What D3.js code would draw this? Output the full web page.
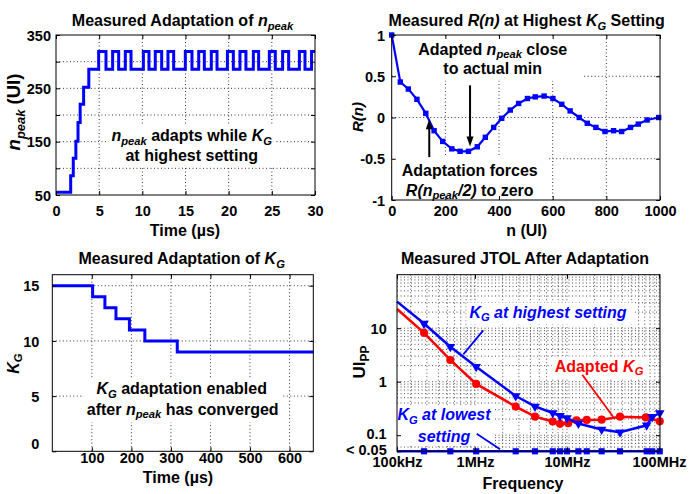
<!DOCTYPE html>
<html>
<head>
<meta charset="utf-8">
<script src="https://cdn.jsdelivr.net/npm/d3@7"></script>
<style>
  body { margin: 0; background: #fff; }
  text { font-family: "Liberation Sans", Arial, sans-serif; font-weight: bold; fill: #000; }
</style>
</head>
<body>
<svg id="fig" width="689" height="494"></svg>
<script>
// ---------- data ----------

// top left: n_peak vs time (us), step held from each time to the next
const npeakTime = [0, 1.7, 2.0, 2.3, 2.55, 2.8, 3.2, 3.8,
    4.94, 5.79, 6.56, 7.26, 8.03, 8.69, 10.12, 10.77, 11.5, 12.24, 12.97, 13.63,
    14.98, 15.75, 16.53, 17.18, 17.99, 18.65, 19.85, 20.54, 21.31, 22.0,
    22.86, 23.47, 24.71, 25.4, 26.25, 26.95, 28.19, 28.84, 29.6, 30]
const npeakValue = [55, 86, 119, 151, 186, 220, 252, 286,
    319, 286, 319, 286, 319, 286, 319, 286, 319, 286, 319, 286,
    319, 286, 319, 286, 319, 286, 319, 286, 319, 286,
    319, 286, 319, 286, 319, 286, 319, 286, 319, 319]
const npeakXTicks = [0, 5, 10, 15, 20, 25, 30]
const npeakYTicks = [50, 100, 150, 200, 250, 300, 350]
const npeakYLabels = [50, 150, 250, 350]

// top right: R(n)
const rnUI = [0, 32, 62, 94, 127, 158, 190, 224, 255, 286, 319, 349, 380, 410, 442, 473,
    506, 535, 568, 601, 634, 665, 699, 729, 761, 795, 827, 857, 890, 919, 952, 995]
const rnValue = [1, 0.43, 0.345, 0.22, 0.05, -0.16, -0.29, -0.38, -0.41, -0.41, -0.355, -0.24, -0.12, -0.01, 0.09, 0.17,
    0.23, 0.25, 0.26, 0.23, 0.16, 0.08, 0.0, -0.07, -0.12, -0.17, -0.16, -0.17, -0.12, -0.08, -0.03, 0.0]
const rnXTicks = [0, 200, 400, 600, 800, 1000]
const rnYTicks = [-1, -0.5, 0, 0.5, 1]

// bottom left: K_G vs time (us)
const kgTime = [0, 102, 133, 161, 195, 234, 316, 660]
const kgValue = [15, 14, 13, 12, 11, 10, 9, 9]
const kgXTicks = [100, 200, 300, 400, 500, 600]
const kgYTicks = [0, 5, 10, 15]

// bottom right: JTOL (UIpp) vs jitter frequency (Hz)
const jtolFreqHigh = [142e3, 279e3, 539e3, 1.03e6, 2.77e6, 4.49e6, 7.0e6, 8.4e6, 10.0e6, 13.3e6, 23.8e6, 37.7e6, 73.5e6, 84.4e6, 102e6]
const jtolHigh = [31.4, 12.2, 4.5, 1.9, 0.54, 0.345, 0.26, 0.23, 0.21, 0.165, 0.128, 0.114, 0.153, 0.22, 0.26]
const jtolFreqAdapted = [142e3, 279e3, 539e3, 1.03e6, 2.77e6, 4.49e6, 7.0e6, 8.4e6, 10.3e6, 12.7e6, 16.4e6, 23.8e6, 37.7e6, 72e6, 102e6]
const jtolAdapted = [22.9, 8.2, 2.55, 0.91, 0.343, 0.222, 0.18, 0.163, 0.168, 0.19, 0.193, 0.195, 0.222, 0.215, 0.182]
const jtolFreqLow = [142e3, 279e3, 539e3, 1.03e6, 2.77e6, 4.49e6, 7.0e6, 8.4e6, 10.0e6, 13.3e6, 16.4e6, 23.8e6, 37.7e6, 73.5e6, 84.4e6, 102e6]
const jtolLow = [0.05, 0.05, 0.05, 0.05, 0.05, 0.05, 0.05, 0.05, 0.05, 0.05, 0.05, 0.05, 0.05, 0.05, 0.05, 0.05]
const jtolXTicks = [1e5, 1e6, 1e7, 1e8]
const jtolXLabels = ["100kHz", "1MHz", "10MHz", "100MHz"]
const jtolYTicks = [0.05, 0.1, 1, 10]
const jtolYLabels = ["< 0.05", "0.1", "1", "10"]

// ---------- helpers ----------
const svg = d3.select("#fig")
const BLUE = "#0000ff", RED = "#ff0000"
const TICK = 14.5, LAB = 16

// text made of pieces, some italic and/or subscript
function rich(text, parts, size) {
    let shift = 0
    parts.forEach(p => {
        const want = p.sub ? size * 0.24 : 0
        const ts = text.append("tspan").text(p.t).attr("dy", want - shift)
        if (p.sub) ts.attr("font-size", size * 0.7)
        if (p.i) ts.attr("font-style", "italic")
        shift = want
    })
    return text
}

function label(g, x, y, parts, size, opt) {
    opt = opt || {}
    if (typeof parts === "string") parts = [{t: parts}]
    const t = g.append("text")
        .attr("x", x).attr("y", y + size * 0.35)
        .attr("text-anchor", opt.anchor || "middle")
        .attr("font-size", size)
    if (opt.color) t.style("fill", opt.color)
    if (opt.rotate) t.attr("transform", `rotate(-90,${x},${y})`)
    return rich(t, parts, size)
}

// white box behind a group of texts
function whiteBox(panel, node, padX, padY, padR) {
    const b = node.getBBox()
    panel.boxes.append("rect")
        .attr("x", b.x - padX).attr("y", b.y - padY)
        .attr("width", b.width + padX + (padR == null ? padX : padR))
        .attr("height", b.height + 2 * padY)
        .attr("fill", "#fff")
}

function makePanel(p) {
    const g = svg.append("g").attr("transform", `translate(${p.left},${p.top})`)
    const panel = {g: g, x: p.x, y: p.y, w: p.w, h: p.h}
    ;["grid", "boxes", "data", "frame", "notes"].forEach(k => panel[k] = g.append("g"))

    panel.grid.selectAll("line.gx").data(p.xGrid).join("line").attr("class", "gx")
        .attr("x1", d => p.x(d)).attr("x2", d => p.x(d)).attr("y1", 0).attr("y2", p.h)
    panel.grid.selectAll("line.gy").data(p.yGrid).join("line").attr("class", "gy")
        .attr("y1", d => p.y(d)).attr("y2", d => p.y(d)).attr("x1", 0).attr("x2", p.w)
    panel.grid.selectAll("line")
        .attr("stroke", p.gridColor || "#333").attr("stroke-width", 1).attr("stroke-dasharray", "1,2.5")

    const f = panel.frame
    const bottom = f.append("g").attr("transform", `translate(0,${p.h})`)
        .call(d3.axisBottom(p.x).tickValues(p.xTicks).tickFormat(p.xFmt).tickSizeInner(-4).tickSizeOuter(0))
    bottom.selectAll("text").attr("y", p.xLabY).attr("dy", "0.35em")
    const left = f.append("g")
        .call(d3.axisLeft(p.y).tickValues(p.yTicks).tickFormat(p.yFmt).tickSizeInner(-4).tickSizeOuter(0))
    left.selectAll("text").attr("x", -p.yLabX).attr("dy", "0.35em")
    f.append("g")
        .call(d3.axisTop(p.x).tickValues(p.xTicks).tickFormat("").tickSizeInner(-4).tickSizeOuter(0))
    f.append("g").attr("transform", `translate(${p.w},0)`)
        .call(d3.axisRight(p.y).tickValues(p.yTicks).tickFormat("").tickSizeInner(-4).tickSizeOuter(0))
    f.selectAll(".domain").remove()
    f.selectAll("g").attr("font-size", TICK)
    f.append("rect").attr("width", p.w).attr("height", p.h)
        .attr("fill", "none").attr("stroke", "#000").attr("stroke-width", 1)
    panel.bottomAxis = bottom
    panel.leftAxis = left
    return panel
}

function arrowHead(g, x, y, dir) {
    // dir: -1 points up, 1 points down
    g.append("path")
        .attr("d", `M${x},${y} L${x - 3.5},${y - dir * 10} L${x + 3.5},${y - dir * 10} Z`)
        .attr("fill", "#000")
}

// ---------- panel 1: n_peak adaptation ----------
{
    const w = 259, h = 160
    const x = d3.scaleLinear().domain([0, 30]).range([0, w])
    const y = d3.scaleLinear().domain([50, 350]).range([h, 0])
    const P = makePanel({
        left: 56, top: 35, w: w, h: h, x: x, y: y,
        xTicks: npeakXTicks, xFmt: d => d, xLabY: 15.7,
        yTicks: npeakYTicks, yFmt: d => npeakYLabels.includes(d) ? d : "", yLabX: 5,
        xGrid: [5, 10, 15, 20, 25], yGrid: [100, 150, 200, 250, 300]
    })
    const line = d3.line().x(d => x(d[0])).y(d => y(d[1])).curve(d3.curveStepAfter)
    P.data.append("path").datum(d3.zip(npeakTime, npeakValue))
        .attr("d", line).attr("fill", "none").attr("stroke", BLUE).attr("stroke-width", 3)

    const note = P.notes.append("g")
    label(note, 135.7, 100.7, [{t: "n", i: 1}, {t: "peak", i: 1, sub: 1}, {t: " adapts while "}, {t: "K", i: 1}, {t: "G", i: 1, sub: 1}], LAB)
    label(note, 135.7, 120.5, "at highest setting", LAB)
    whiteBox(P, note.node(), 3, 2)

    label(svg, 182.5, 20.7, [{t: "Measured Adaptation of "}, {t: "n", i: 1}, {t: "peak", i: 1, sub: 1}], LAB)
    label(svg, 185, 230, "Time (µs)", LAB)
    label(svg, 14, 112, [{t: "n", i: 1}, {t: "peak", i: 1, sub: 1}, {t: " (UI)"}], 18.5, {rotate: true})
}

// ---------- panel 2: R(n) ----------
{
    const w = 268.3, h = 165
    const x = d3.scaleLinear().domain([0, 1000]).range([0, w])
    const y = d3.scaleLinear().domain([-1, 1]).range([h, 0])
    const P = makePanel({
        left: 391.7, top: 35, w: w, h: h, x: x, y: y,
        xTicks: rnXTicks, xFmt: d => d, xLabY: 10.7,
        yTicks: rnYTicks, yFmt: d => d, yLabX: 6.5,
        xGrid: [200, 400, 600, 800], yGrid: [-0.5, 0, 0.5]
    })
    const pts = d3.zip(rnUI, rnValue)
    P.data.append("path").datum(pts)
        .attr("d", d3.line().x(d => x(d[0])).y(d => y(d[1])))
        .attr("fill", "none").attr("stroke", BLUE).attr("stroke-width", 2.2)
    P.data.selectAll("rect").data(pts).join("rect")
        .attr("x", d => x(d[0]) - 2.7).attr("y", d => y(d[1]) - 2.7)
        .attr("width", 5.4).attr("height", 5.4).attr("fill", BLUE)

    const top = P.notes.append("g")
    label(top, 101, 14, [{t: "Adapted "}, {t: "n", i: 1}, {t: "peak", i: 1, sub: 1}, {t: " close"}], LAB)
    label(top, 101, 33, "to actual min", LAB)
    whiteBox(P, top.node(), 22, 4, 16)
    const bot = P.notes.append("g")
    label(bot, 78, 135, "Adaptation forces", LAB)
    label(bot, 78, 155, [{t: "R(n", i: 1}, {t: "peak", i: 1, sub: 1}, {t: "/2)", i: 1}, {t: " to zero"}], LAB)
    whiteBox(P, bot.node(), 10, 5)

    // arrows
    const arrows = [{n: 140, from: -0.48, to: -0.02}, {n: 292, from: 0.39, to: -0.35}]
    arrows.forEach(a => {
        const dir = a.to > a.from ? -1 : 1
        P.notes.append("line")
            .attr("x1", x(a.n)).attr("x2", x(a.n)).attr("y1", y(a.from)).attr("y2", y(a.to) - dir * 8)
            .attr("stroke", "#000").attr("stroke-width", 2)
        arrowHead(P.notes, x(a.n), y(a.to), dir)
    })

    label(svg, 526.7, 20.7, [{t: "Measured "}, {t: "R(n)", i: 1}, {t: " at Highest "}, {t: "K", i: 1}, {t: "G", i: 1, sub: 1}, {t: " Setting"}], LAB)
    label(svg, 526.7, 230, "n (UI)", LAB)
    label(svg, 358, 117, [{t: "R(n)", i: 1}], 15, {rotate: true})
}

// ---------- panel 3: K_G adaptation ----------
{
    const w = 261, h = 176.6
    const x = d3.scaleLinear().domain([0, 660]).range([0, w])
    const y = d3.scaleLinear().domain([0, 16]).range([h, 0])
    const P = makePanel({
        left: 52.3, top: 274.7, w: w, h: h, x: x, y: y,
        xTicks: kgXTicks, xFmt: d => d, xLabY: 6.4,
        yTicks: kgYTicks, yFmt: d => d, yLabX: 13,
        xGrid: [100, 200, 300, 400, 500, 600], yGrid: [5, 10, 15]
    })
    P.leftAxis.selectAll(".tick text").filter(d => d === 0).attr("y", -7.5)
    const line = d3.line().x(d => x(d[0])).y(d => y(d[1])).curve(d3.curveStepAfter)
    P.data.append("path").datum(d3.zip(kgTime, kgValue))
        .attr("d", line).attr("fill", "none").attr("stroke", BLUE).attr("stroke-width", 3)

    const note = P.notes.append("g")
    label(note, 129.4, 114, [{t: "K", i: 1}, {t: "G", i: 1, sub: 1}, {t: " adaptation enabled"}], LAB)
    label(note, 130.4, 134.3, [{t: "after "}, {t: "n", i: 1}, {t: "peak", i: 1, sub: 1}, {t: " has converged"}], LAB)
    whiteBox(P, note.node(), 3, 2)

    label(svg, 181.7, 258.7, [{t: "Measured Adaptation of "}, {t: "K", i: 1}, {t: "G", i: 1, sub: 1}], LAB)
    label(svg, 178, 477, "Time (µs)", LAB)
    label(svg, 13, 363.7, [{t: "K", i: 1}, {t: "G", i: 1, sub: 1}], LAB, {rotate: true})
}

// ---------- panel 4: JTOL ----------
{
    const w = 263, h = 176.6
    const x = d3.scaleLog().domain([141.9e3, 102.6e6]).range([0, w]).clamp(true)
    const y = d3.scaleLog().domain([0.05, 100]).range([h, 0])
    const xGrid = [], yGrid = []
    ;[1e5, 1e6, 1e7, 1e8].forEach(d => d3.range(1, 10).forEach(k => {
        if (d * k > 141.9e3 && d * k < 102.6e6) xGrid.push(d * k)
    }))
    ;[0.01, 0.1, 1, 10].forEach(d => d3.range(1, 10).forEach(k => {
        if (d * k > 0.05 && d * k < 100) yGrid.push(d * k)
    }))
    const P = makePanel({
        left: 397, top: 274.7, w: w, h: h, x: x, y: y,
        xTicks: jtolXTicks, xFmt: (d, i) => jtolXLabels[i], xLabY: 10.7,
        yTicks: jtolYTicks, yFmt: (d, i) => jtolYLabels[i], yLabX: 10.3,
        xGrid: xGrid, yGrid: yGrid, gridColor: "#555"
    })
    // the floor label sits a little above the bottom edge
    P.leftAxis.selectAll(".tick text").filter(d => d === 0.05).attr("y", -2)
    P.leftAxis.selectAll(".tick text").filter(d => d === 0.1).attr("y", -1.5)
    const line = d3.line().x(d => x(d[0])).y(d => y(d[1]))
    const series = [
        {f: jtolFreqLow, v: jtolLow, color: BLUE, sym: d3.symbolSquare, size: 38, rot: 0},
        {f: jtolFreqAdapted, v: jtolAdapted, color: RED, sym: d3.symbolCircle, size: 52, rot: 0},
        {f: jtolFreqHigh, v: jtolHigh, color: BLUE, sym: d3.symbolTriangle, size: 40, rot: 180}
    ]
    series.forEach(s => {
        const pts = d3.zip(s.f, s.v)
        P.data.append("path").datum(pts).attr("d", line)
            .attr("fill", "none").attr("stroke", s.color).attr("stroke-width", 2.5)
        // first point sits on the left edge of the plot: no marker there
        P.data.append("g").selectAll("path").data(pts.slice(1)).join("path")
            .attr("d", d3.symbol(s.sym, s.size))
            .attr("transform", d => `translate(${x(d[0])},${y(d[1])}) rotate(${s.rot})`)
            .attr("fill", s.color)
    })

    // annotations with pointer lines
    const hi = P.notes.append("g")
    label(hi, 151, 37.3, [{t: "K", i: 1}, {t: "G", i: 1, sub: 1}, {t: " at highest setting", i: 1}], LAB, {color: BLUE})
    whiteBox(P, hi.node(), 3, 1, 6)
    const ad = P.notes.append("g")
    label(ad, 202, 91.3, [{t: "Adapted "}, {t: "K", i: 1}, {t: "G", i: 1, sub: 1}], LAB, {color: RED})
    whiteBox(P, ad.node(), 3, 1)
    const lo = P.notes.append("g")
    label(lo, 47, 140, [{t: "K", i: 1}, {t: "G", i: 1, sub: 1}, {t: " at lowest", i: 1}], LAB, {color: BLUE})
    label(lo, 47, 161.3, [{t: "setting", i: 1}], LAB, {color: BLUE})
    whiteBox(P, lo.node(), 3, 1)

    const pointers = [
        {x1: 86.3, y1: 55.6, x2: 66.3, y2: 79.6, color: BLUE},
        {x1: 185.3, y1: 100, x2: 216.3, y2: 142.3, color: RED},
        {x1: 79.7, y1: 159, x2: 103, y2: 174.6, color: BLUE}
    ]
    P.notes.selectAll("line.ptr").data(pointers).join("line").attr("class", "ptr")
        .attr("x1", d => d.x1).attr("y1", d => d.y1).attr("x2", d => d.x2).attr("y2", d => d.y2)
        .attr("stroke", d => d.color).attr("stroke-width", 1.8)

    label(svg, 525, 258.7, "Measured JTOL After Adaptation", LAB)
    label(svg, 523, 483.7, "Frequency", LAB)
    label(svg, 359, 362, [{t: "UI"}, {t: "PP", sub: 1}], 17, {rotate: true})
}
</script>
</body>
</html>
